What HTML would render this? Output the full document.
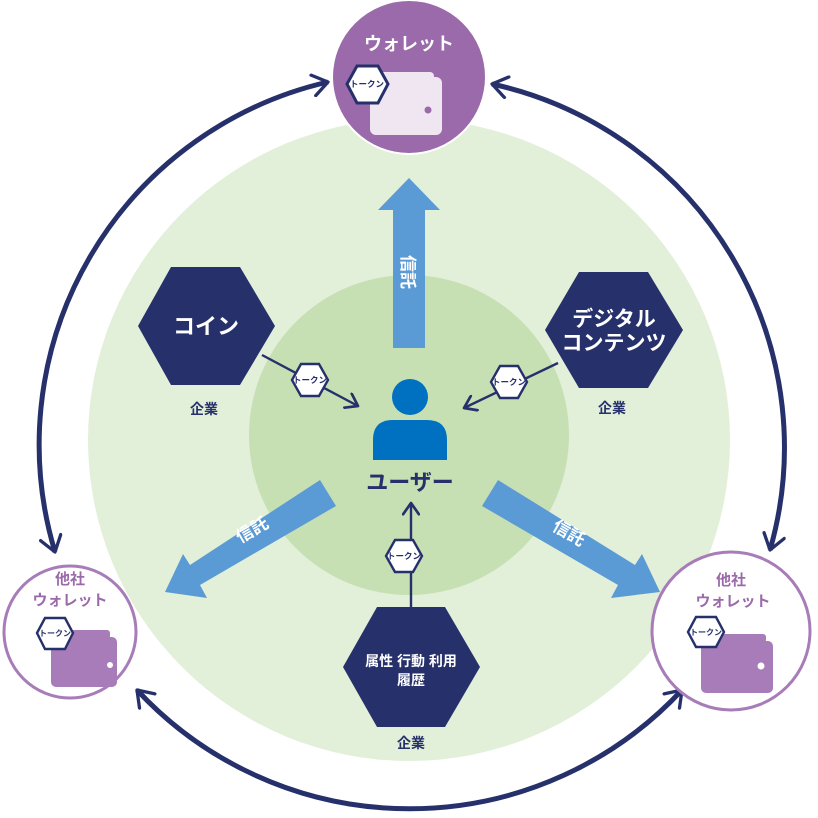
<!DOCTYPE html>
<html><head><meta charset="utf-8"><style>
html,body{margin:0;padding:0;background:#fff;}
svg{display:block;font-family:"Liberation Sans","Noto Sans CJK JP",sans-serif;font-weight:bold;}
</style></head><body>
<svg width="818" height="818" viewBox="0 0 818 818" xmlns="http://www.w3.org/2000/svg">
<defs>
<marker id="ah" viewBox="0 0 12 12" refX="10" refY="6" markerWidth="7" markerHeight="7" orient="auto-start-reverse" markerUnits="userSpaceOnUse">
</marker>
<marker id="m" viewBox="-12 -8 14 16" refX="0" refY="0" markerWidth="22" markerHeight="24" orient="auto-start-reverse" markerUnits="userSpaceOnUse">
<polyline points="-10,-7 0,0 -10,7" fill="none" stroke="#26306b" stroke-width="2.2" stroke-linecap="round" stroke-linejoin="round"/>
</marker>
<marker id="s" viewBox="-12 -8 14 16" refX="0" refY="0" markerWidth="16" markerHeight="18" orient="auto" markerUnits="userSpaceOnUse">
<polyline points="-10,-7 0,0 -10,7" fill="none" stroke="#26306b" stroke-width="2.4" stroke-linecap="round" stroke-linejoin="round"/>
</marker>
</defs>
<!-- green circles -->
<circle cx="409" cy="440" r="321" fill="#e2efd9"/>
<circle cx="409" cy="435" r="160" fill="#c6e0b4"/>

<!-- outer ring arcs -->
<g fill="none" stroke="#26306b" stroke-width="5">
<path d="M55,552 A372,372 0 0 1 328,82" marker-start="url(#m)" marker-end="url(#m)"/>
<path d="M492,84 A372,372 0 0 1 770,550" marker-start="url(#m)" marker-end="url(#m)"/>
<path d="M137,690 A372,372 0 0 0 682,690" marker-start="url(#m)" marker-end="url(#m)"/>
</g>

<!-- blue arrows -->
<g fill="#5b9bd5">
<polygon points="393,348 393,210 378,210 409,178 440,210 425,210 425,348"/>
<polygon points="320,480 336,506 200,585 207,598 165,592 183,554 190,565"/>
<polygon points="498,480 482,506 618,585 611,598 660,592 642,554 635,565"/>
</g>
<text x="0" y="0" transform="translate(402,272) rotate(90)" fill="#fff" font-size="17" text-anchor="middle">信託</text>
<text x="0" y="0" transform="translate(255,535) rotate(-30)" fill="#fff" font-size="17" text-anchor="middle">信託</text>
<text x="0" y="0" transform="translate(566,538) rotate(30)" fill="#fff" font-size="17" text-anchor="middle">信託</text>

<!-- connector lines -->
<g stroke="#26306b" stroke-width="2.4" fill="none">
<line x1="262" y1="355" x2="358" y2="406" marker-end="url(#s)"/>
<line x1="558" y1="363" x2="464" y2="408" marker-end="url(#s)"/>
<line x1="411" y1="607" x2="411" y2="503" marker-end="url(#s)"/>
</g>

<!-- big hexes -->
<g fill="#26306b">
<polygon points="138,326 171,267 240,267 275,326 240,385 171,385"/>
<polygon points="545,330 579,272 648,272 683,330 648,388 579,388"/>
<polygon points="343,667 377,607 445,607 480,667 445,727 377,727"/>
</g>
<g fill="#fff" text-anchor="middle">
<text x="206" y="334" font-size="22">コイン</text>
<text x="614" y="326" font-size="21">デジタル</text>
<text x="614" y="350" font-size="21">コンテンツ</text>
<text x="411" y="666" font-size="14">属性 行動 利用</text>
<text x="411" y="685" font-size="14">履歴</text>
</g>
<g fill="#26306b" text-anchor="middle" font-size="14">
<text x="204" y="414">企業</text>
<text x="612" y="413">企業</text>
<text x="411" y="748">企業</text>
</g>

<!-- person -->
<circle cx="410" cy="397" r="18" fill="#0070c0"/>
<path d="M373,460 L373,440 Q373,420 393,420 L427,420 Q447,420 447,440 L447,460 Z" fill="#0070c0"/>
<text x="410" y="490" font-size="22" fill="#26306b" text-anchor="middle">ユーザー</text>

<!-- small token hexes -->
<g stroke="#26306b" stroke-width="2.4" fill="#fff">
<polygon points="292,380 301,364 319,364 328,380 319,396 301,396"/>
<polygon points="491,382 500,366 518,366 527,382 518,398 500,398"/>
<polygon points="386,556 395,540 413,540 422,556 413,572 395,572"/>
</g>
<g fill="#26306b" font-size="8.5" text-anchor="middle">
<text x="310" y="383">トークン</text>
<text x="509" y="385">トークン</text>
<text x="404" y="559">トークン</text>
</g>

<!-- top wallet -->
<circle cx="409" cy="77" r="77" fill="#9b6aaa" stroke="#fff" stroke-width="2"/>
<text x="409" y="50" font-size="18" fill="#fff" text-anchor="middle">ウォレット</text>
<rect x="370" y="77" width="72" height="58" rx="6" fill="#efe6f2"/>
<rect x="378" y="72" width="56" height="10" rx="4" fill="#efe6f2"/>
<circle cx="428" cy="110" r="3.5" fill="#9b6aaa"/>
<polygon points="347,84 357,66 378,66 388,84 378,103 357,103" fill="#fff" stroke="#26306b" stroke-width="3"/>
<text x="367" y="87" font-size="8.5" fill="#26306b" text-anchor="middle">トークン</text>

<!-- left wallet -->
<circle cx="70" cy="632" r="66" fill="#fff" stroke="#a77cb8" stroke-width="3"/>
<text x="70" y="584" font-size="15" fill="#9b6aaa" text-anchor="middle">他社</text>
<text x="70" y="605" font-size="15" fill="#9b6aaa" text-anchor="middle">ウォレット</text>
<rect x="51" y="637" width="66" height="50" rx="5" fill="#a77cb8"/>
<rect x="58" y="630" width="52" height="9" rx="3" fill="#a77cb8"/>
<circle cx="110" cy="665" r="3" fill="#fff"/>
<polygon points="37,633 45,618 65,618 73,633 65,649 45,649" fill="#fff" stroke="#26306b" stroke-width="2.4"/>
<text x="55" y="636" font-size="8" fill="#26306b" text-anchor="middle">トークン</text>

<!-- right wallet -->
<circle cx="731" cy="631" r="79" fill="#fff" stroke="#a77cb8" stroke-width="3"/>
<text x="731" y="585" font-size="15" fill="#9b6aaa" text-anchor="middle">他社</text>
<text x="733" y="606" font-size="15" fill="#9b6aaa" text-anchor="middle">ウォレット</text>
<rect x="701" y="641" width="72" height="52" rx="5" fill="#a77cb8"/>
<rect x="708" y="634" width="58" height="9" rx="3" fill="#a77cb8"/>
<circle cx="761" cy="666" r="3.5" fill="#fff"/>
<polygon points="688,632 696,617 716,617 724,632 716,647 696,647" fill="#fff" stroke="#26306b" stroke-width="2.4"/>
<text x="706" y="635" font-size="8" fill="#26306b" text-anchor="middle">トークン</text>
</svg>
</body></html>
